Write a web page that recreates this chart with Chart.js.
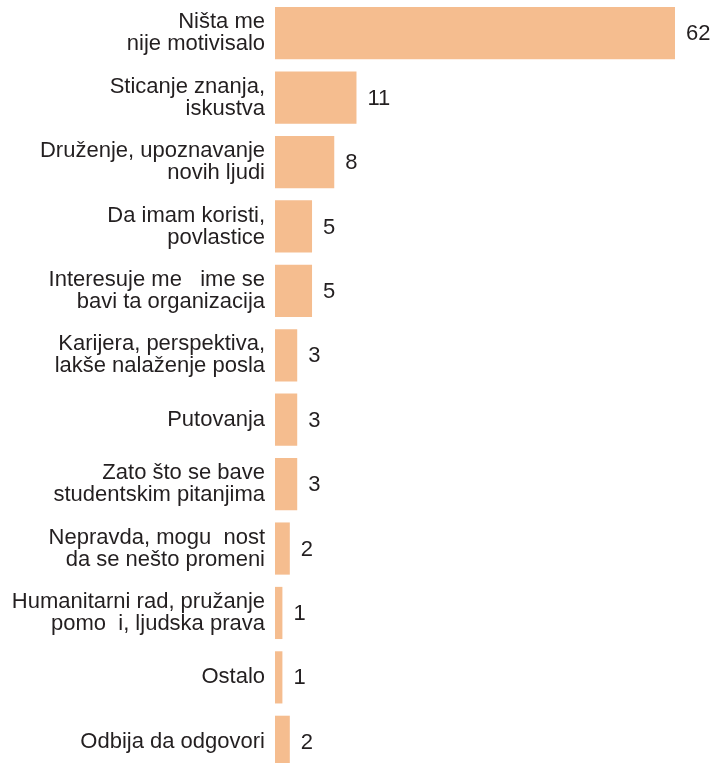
<!DOCTYPE html>
<html>
<head>
<meta charset="utf-8">
<script src="https://cdn.jsdelivr.net/npm/chart.js@4"></script>
<style>
  html, body { margin: 0; padding: 0; background: #fff; overflow: hidden; }
  #wrap { width: 714px; height: 774px; position: relative; }
</style>
</head>
<body>
<div id="wrap"><canvas id="myChart"></canvas></div>
<script>
// kategorije (redosled kao na slici)
const categories = [
    ["Ništa me", "nije motivisalo"],
    ["Sticanje znanja,", "iskustva"],
    ["Druženje, upoznavanje", "novih ljudi"],
    ["Da imam koristi,", "povlastice"],
    ["Interesuje me   ime se", "bavi ta organizacija"],
    ["Karijera, perspektiva,", "lakše nalaženje posla"],
    "Putovanja",
    ["Zato što se bave", "studentskim pitanjima"],
    ["Nepravda, mogu  nost", "da se nešto promeni"],
    ["Humanitarni rad, pružanje", "pomo  i, ljudska prava"],
    "Ostalo",
    "Odbija da odgovori"
];
const values = [62, 11, 8, 5, 5, 3, 3, 3, 2, 1, 1, 2];

const textColor = "#231f20";
const barColor = "#f5bd8f";
const fontFamily = "'Liberation Sans', Arial, sans-serif";

//vrednosti desno od stubica
const valueLabels = {
    id: "valueLabels",
    afterDatasetsDraw(chart) {
        const ctx = chart.ctx;
        const area = chart.chartArea;
        const meta = chart.getDatasetMeta(0);
        ctx.save();
        ctx.font = "22px " + fontFamily;
        ctx.fillStyle = textColor;
        ctx.textAlign = "left";
        ctx.textBaseline = "middle";
        meta.data.forEach((bar, i) => {
            const x = Math.min(bar.x, area.right) + 11;
            ctx.fillText(String(values[i]), x, bar.y + 1);
        });
        ctx.restore();
    }
};

let ctx = document.getElementById("myChart").getContext("2d");
let chart = new Chart(ctx, {
    type: "bar",
    data: {
        labels: categories,
        datasets: [{
            data: values,
            backgroundColor: barColor,
            borderWidth: 0,
            categoryPercentage: 1,
            barPercentage: 0.81,
            clip: 0
        }]
    },
    options: {
        indexAxis: "y",
        responsive: true,
        maintainAspectRatio: false,
        animation: false,
        layout: { padding: { top: 1, right: 39, bottom: 0, left: 0 } },
        plugins: {
            legend: { display: false },
            tooltip: { enabled: false }
        },
        scales: {
            x: {
                display: false,
                min: 0,
                max: 54
            },
            y: {
                grid: { display: false, drawTicks: false },
                border: { display: false },
                afterFit(scale) {
                    scale.width = 275;
                    scale.paddingTop = 0;
                    scale.paddingBottom = 0;
                },
                ticks: {
                    color: textColor,
                    padding: 10,
                    font: { family: fontFamily, size: 22, lineHeight: 1.0 }
                }
            }
        }
    },
    plugins: [valueLabels]
});
</script>
</body>
</html>
